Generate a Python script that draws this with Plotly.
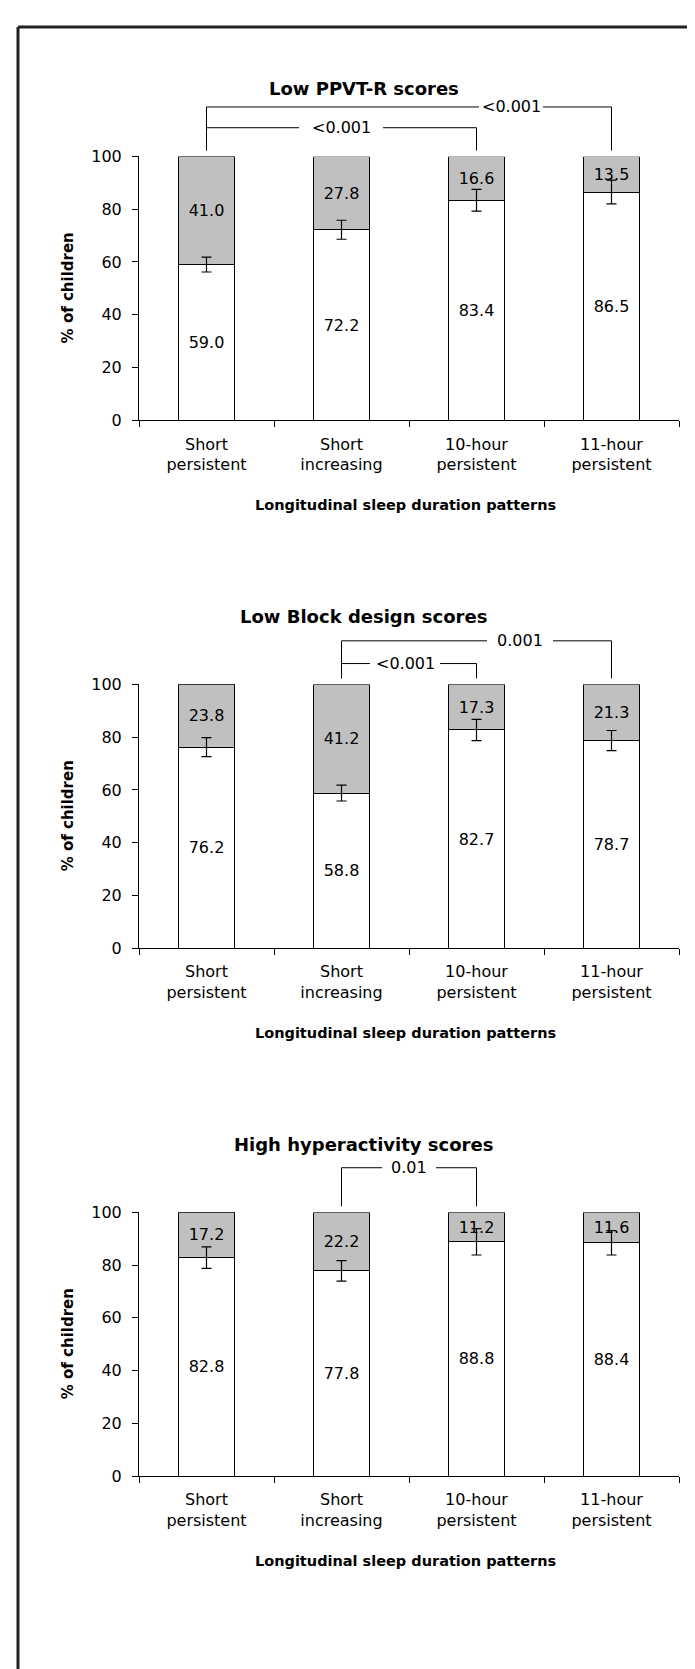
import plotly.graph_objects as go

# ---------------- data ----------------
categories = ["Short<br>persistent", "Short<br>increasing", "10-hour<br>persistent", "11-hour<br>persistent"]
panel_titles = ["Low PPVT-R scores", "Low Block design scores", "High hyperactivity scores"]
x_title = "Longitudinal sleep duration patterns"
y_title = "% of children"

ppvt_normal = [59.0, 72.2, 83.4, 86.5]
ppvt_low = [41.0, 27.8, 16.6, 13.5]
ppvt_err = [2.8, 3.6, 4.1, 4.5]

block_normal = [76.2, 58.8, 82.7, 78.7]
block_low = [23.8, 41.2, 17.3, 21.3]
block_err = [3.6, 3.0, 4.0, 3.8]

hyper_normal = [82.8, 77.8, 88.8, 88.4]
hyper_high = [17.2, 22.2, 11.2, 11.6]
hyper_err = [4.1, 3.9, 5.0, 4.6]

# brackets: (left category index, right category index, p-value label)
ppvt_brackets = [(0, 3, "&lt;0.001"), (0, 2, "&lt;0.001")]
block_brackets = [(1, 3, "0.001"), (1, 2, "&lt;0.001")]
hyper_brackets = [(1, 2, "0.01")]

panels = [
    (ppvt_normal, ppvt_low, ppvt_err, ppvt_brackets),
    (block_normal, block_low, block_err, block_brackets),
    (hyper_normal, hyper_high, hyper_err, hyper_brackets),
]

# ---------------- layout geometry (pixels) ----------------
W, H = 695, 1669
X0, X1 = 131, 671          # plot area left/right
TOPS = [141, 675, 1209]    # y of value 100
PH = 267                   # plot height in px
FONT = "DejaVu Sans"
GREY = "#c0c0c0"

# bracket styling per panel: level y offsets (px above plot top) and label centre / gap half-width
bracket_geom = [
    [(-50, 503, 32), (-29, 333, 42)],
    [(-44, 512, 33), (-21, 397, 35)],
    [(-45, 401, 27)],
]


def px(x):
    return x / W


def py(y):
    return 1 - y / H


fig = go.Figure()
shapes = []
annotations = []

for i, (normal, high, err, brackets) in enumerate(panels):
    n = "" if i == 0 else str(i + 1)
    xa, ya = "x" + n, "y" + n
    top = TOPS[i]
    bottom = top + PH

    fig.add_trace(go.Bar(
        x=categories, y=normal, xaxis=xa, yaxis=ya,
        marker=dict(color="white", line=dict(color="black", width=1)),
        texttemplate="%{y:.1f}", textposition="inside", insidetextanchor="middle",
        textangle=0, constraintext="none",
        textfont=dict(family=FONT, size=16, color="black"),
        showlegend=False, hoverinfo="skip",
    ))
    fig.add_trace(go.Bar(
        x=categories, y=high, xaxis=xa, yaxis=ya,
        marker=dict(color=GREY, line=dict(color="black", width=1)),
        texttemplate="%{y:.1f}", textposition="inside", insidetextanchor="middle",
        textangle=0, constraintext="none",
        textfont=dict(family=FONT, size=16, color="black"),
        showlegend=False, hoverinfo="skip",
    ))
    fig.add_trace(go.Scatter(
        x=categories, y=normal, xaxis=xa, yaxis=ya, mode="markers",
        marker=dict(size=1, color="rgba(0,0,0,0)"),
        error_y=dict(type="data", array=err, visible=True, color="black",
                     thickness=1.2, width=5),
        showlegend=False, hoverinfo="skip", cliponaxis=False,
    ))

    dom_x = [px(X0), px(X1)]
    dom_y = [py(bottom), py(top)]
    fig.layout["xaxis" + n] = dict(
        domain=dom_x, anchor=ya, type="category",
        tickson="boundaries", ticks="outside", ticklen=6, tickcolor="black",
        showline=True, linecolor="black", linewidth=1, showgrid=False,
        tickfont=dict(family=FONT, size=16, color="black"),
        ticklabelstandoff=9,
        range=[-0.5, 3.5], fixedrange=True,
    )
    fig.layout["yaxis" + n] = dict(
        domain=dom_y, anchor=xa, range=[0, 100], dtick=20,
        ticks="outside", ticklen=6, tickcolor="black",
        showline=True, linecolor="black", linewidth=1, showgrid=False,
        zeroline=False, ticklabelstandoff=7,
        tickfont=dict(family=FONT, size=16, color="black"), fixedrange=True,
    )

    # titles
    annotations.append(dict(
        x=px(356), y=py(top - 69), xref="paper", yref="paper",
        text="<b>" + panel_titles[i] + "</b>", showarrow=False,
        font=dict(family=FONT, size=18, color="black"),
        xanchor="center", yanchor="middle",
    ))
    annotations.append(dict(
        x=px(397), y=py(bottom + 86), xref="paper", yref="paper",
        text="<b>" + x_title + "</b>", showarrow=False,
        font=dict(family=FONT, size=14.5, color="black"),
        xanchor="center", yanchor="middle",
    ))
    annotations.append(dict(
        x=px(60), y=py(top + PH / 2), xref="paper", yref="paper",
        text="<b>" + y_title + "</b>", showarrow=False, textangle=-90,
        font=dict(family=FONT, size=15, color="black"),
        xanchor="center", yanchor="middle",
    ))

    # significance brackets
    cw = (X1 - X0) / len(categories)
    for (a, b, label), (dy, lx, gap) in zip(brackets, bracket_geom[i]):
        xa_px = X0 + (a + 0.5) * cw
        xb_px = X0 + (b + 0.5) * cw
        ly = top + dy
        end_y = top - 6
        line = dict(color="black", width=1)
        for (u0, v0, u1, v1) in [
            (xa_px, ly, lx - gap, ly),
            (lx + gap, ly, xb_px, ly),
            (xa_px, ly, xa_px, end_y),
            (xb_px, ly, xb_px, end_y),
        ]:
            shapes.append(dict(type="line", xref="paper", yref="paper",
                               x0=px(u0), y0=py(v0), x1=px(u1), y1=py(v1), line=line))
        annotations.append(dict(
            x=px(lx), y=py(ly), xref="paper", yref="paper", text=label,
            showarrow=False, font=dict(family=FONT, size=16, color="black"),
            xanchor="center", yanchor="middle",
        ))

# outer frame (left and top edges visible)
frame = dict(color="#222222", width=3)
shapes.append(dict(type="line", xref="paper", yref="paper",
                   x0=px(10), y0=py(10), x1=px(710), y1=py(10), line=frame))
shapes.append(dict(type="line", xref="paper", yref="paper",
                   x0=px(10), y0=py(10), x1=px(10), y1=py(1700), line=frame))

fig.update_layout(
    width=W, height=H, margin=dict(l=0, r=0, t=0, b=0),
    paper_bgcolor="white", plot_bgcolor="white",
    barmode="stack", bargap=0.59,
    shapes=shapes, annotations=annotations,
    showlegend=False,
)

fig.write_html("out.html")
